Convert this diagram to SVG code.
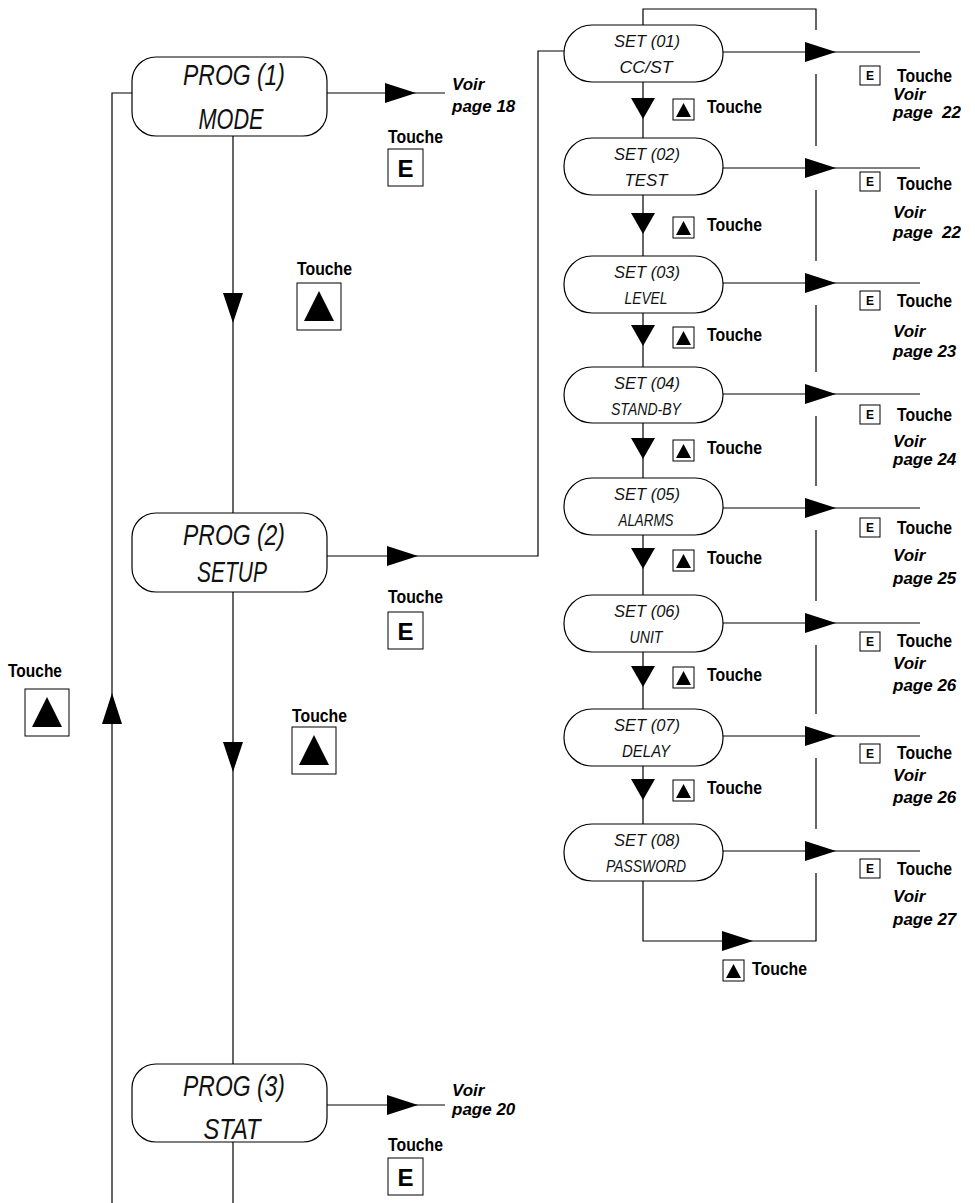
<svg xmlns="http://www.w3.org/2000/svg" xmlns:xlink="http://www.w3.org/1999/xlink" width="975" height="1203" viewBox="0 0 975 1203">
<style>
.ln{stroke:#000;stroke-width:1.2;fill:none}
.nd{fill:#fff;stroke:#000;stroke-width:1.2}
.lcd{font-family:"Liberation Sans",Arial,sans-serif;font-style:italic;fill:#111;text-anchor:middle}
.big{font-size:30px}
.sm{font-size:16px}
.t{font-family:"Liberation Sans",Arial,sans-serif;font-weight:bold;font-size:18px;fill:#000}
.v{font-family:"Liberation Sans",Arial,sans-serif;font-weight:bold;font-style:italic;font-size:17px;fill:#000}
.bx{fill:#fff;stroke:#000;stroke-width:1}
.ek{font-family:"Liberation Sans",Arial,sans-serif;font-weight:bold;fill:#000;text-anchor:middle}
.ah{fill:#000}
</style>
<defs>
<path id="ar" class="ah" d="M0,-10 L31,0 L0,10 Z"/>
<path id="ad" class="ah" d="M-10,0 L10,0 L0,30 Z"/>
<path id="au" class="ah" d="M-10,0 L10,0 L0,-31 Z"/>
<path id="ads" class="ah" d="M-12,0 L12,0 L0,21 Z"/>
<g id="kbig"><rect class="bx" x="0" y="0" width="44" height="47"/><path class="ah" d="M7,38 L37,38 L22,8 Z"/></g>
<g id="ksm"><rect class="bx" x="0" y="0" width="21" height="21"/><path class="ah" d="M3,18 L18,18 L10.5,4 Z"/></g>
<g id="ebig"><rect class="bx" x="0" y="0" width="35" height="37"/><text class="ek" x="17.5" y="28" font-size="24">E</text></g>
<g id="esm"><rect class="bx" x="0" y="0" width="20" height="19"/><text class="ek" x="10" y="14" font-size="12">E</text></g>
</defs>

<g id="connectors">
<!-- left return line -->
<path class="ln" d="M132,93 H112 V1203"/>
<use href="#au" x="112" y="724"/>
<!-- main vertical -->
<path class="ln" d="M233,136 V513 M233,592 V1064 M233,1142 V1203"/>
<use href="#ad" x="233" y="293"/>
<use href="#ad" x="233" y="742"/>
<!-- PROG outputs -->
<path class="ln" d="M327,93 H445"/>
<use href="#ar" x="385" y="93"/>
<path class="ln" d="M327,556 H538 V51 H564"/>
<use href="#ar" x="387" y="556"/>
<path class="ln" d="M327,1105 H445"/>
<use href="#ar" x="387" y="1105"/>
<!-- SET column vertical -->
<path class="ln" d="M643,25 V9 H816 V30 M816,74 V146 M816,190 V261 M816,305 V372 M816,416 V486 M816,530 V601 M816,645 V714 M816,758 V829 M816,873 V941 H643 V881"/>
<path class="ln" d="M643,82 V138 M643,195 V256 M643,313 V367 M643,423 V478 M643,535 V595 M643,652 V709 M643,766 V824"/>
<use href="#ads" x="643" y="98"/>
<use href="#ads" x="643" y="213"/>
<use href="#ads" x="643" y="325"/>
<use href="#ads" x="643" y="438"/>
<use href="#ads" x="643" y="548"/>
<use href="#ads" x="643" y="666"/>
<use href="#ads" x="643" y="779"/>
<use href="#ar" x="722" y="941"/>
<!-- SET outputs -->
<path class="ln" d="M723,52 H920 M723,168 H920 M723,283 H920 M723,394 H920 M723,508 H920 M723,623 H920 M723,736 H920 M723,851 H920"/>
<use href="#ar" x="805" y="52"/>
<use href="#ar" x="805" y="168"/>
<use href="#ar" x="805" y="283"/>
<use href="#ar" x="805" y="394"/>
<use href="#ar" x="805" y="508"/>
<use href="#ar" x="805" y="623"/>
<use href="#ar" x="805" y="736"/>
<use href="#ar" x="805" y="851"/>
</g>

<g id="prog1">
<rect class="nd" x="132" y="57" width="195" height="79" rx="24"/>
<text class="lcd big" x="234" y="85" textLength="102" lengthAdjust="spacingAndGlyphs">PROG (1)</text>
<text class="lcd big" x="231" y="129" textLength="65" lengthAdjust="spacingAndGlyphs">MODE</text>
</g>
<g id="prog2">
<rect class="nd" x="132" y="513" width="195" height="79" rx="24"/>
<text class="lcd big" x="234" y="545" textLength="102" lengthAdjust="spacingAndGlyphs">PROG (2)</text>
<text class="lcd big" x="232" y="582" textLength="70" lengthAdjust="spacingAndGlyphs">SETUP</text>
</g>
<g id="prog3">
<rect class="nd" x="132" y="1064" width="195" height="78" rx="24"/>
<text class="lcd big" x="234" y="1096" textLength="102" lengthAdjust="spacingAndGlyphs">PROG (3)</text>
<text class="lcd big" x="232" y="1139" textLength="57" lengthAdjust="spacingAndGlyphs">STAT</text>
</g>

<g id="prog-labels">
<text class="v" x="452" y="90">Voir</text>
<text class="v" x="452" y="112">page 18</text>
<text class="t" x="388" y="143" textLength="55" lengthAdjust="spacingAndGlyphs">Touche</text>
<use href="#ebig" x="388" y="149"/>
<text class="t" x="388" y="603" textLength="55" lengthAdjust="spacingAndGlyphs">Touche</text>
<use href="#ebig" x="388" y="612"/>
<text class="v" x="452" y="1096">Voir</text>
<text class="v" x="452" y="1115">page 20</text>
<text class="t" x="388" y="1151" textLength="55" lengthAdjust="spacingAndGlyphs">Touche</text>
<use href="#ebig" x="388" y="1158"/>
<text class="t" x="297" y="275" textLength="55" lengthAdjust="spacingAndGlyphs">Touche</text>
<use href="#kbig" x="297" y="283"/>
<text class="t" x="292" y="722" textLength="55" lengthAdjust="spacingAndGlyphs">Touche</text>
<use href="#kbig" x="292" y="727"/>
<text class="t" x="8" y="677" textLength="54" lengthAdjust="spacingAndGlyphs">Touche</text>
<use href="#kbig" x="25" y="689"/>
</g>

<g id="set01"><rect class="nd" x="564" y="25" width="159" height="57" rx="28"/>
<text class="lcd sm" x="647" y="47" textLength="66" lengthAdjust="spacingAndGlyphs">SET (01)</text>
<text class="lcd sm" x="646" y="73" textLength="53" lengthAdjust="spacingAndGlyphs">CC/ST</text></g>
<g id="set02"><rect class="nd" x="564" y="138" width="159" height="57" rx="28"/>
<text class="lcd sm" x="647" y="160" textLength="66" lengthAdjust="spacingAndGlyphs">SET (02)</text>
<text class="lcd sm" x="646" y="186" textLength="43" lengthAdjust="spacingAndGlyphs">TEST</text></g>
<g id="set03"><rect class="nd" x="564" y="256" width="159" height="57" rx="28"/>
<text class="lcd sm" x="647" y="278" textLength="66" lengthAdjust="spacingAndGlyphs">SET (03)</text>
<text class="lcd sm" x="646" y="304" textLength="43" lengthAdjust="spacingAndGlyphs">LEVEL</text></g>
<g id="set04"><rect class="nd" x="564" y="367" width="159" height="56" rx="28"/>
<text class="lcd sm" x="647" y="389" textLength="66" lengthAdjust="spacingAndGlyphs">SET (04)</text>
<text class="lcd sm" x="646" y="415" textLength="70" lengthAdjust="spacingAndGlyphs">STAND-BY</text></g>
<g id="set05"><rect class="nd" x="564" y="478" width="159" height="57" rx="28"/>
<text class="lcd sm" x="647" y="500" textLength="66" lengthAdjust="spacingAndGlyphs">SET (05)</text>
<text class="lcd sm" x="646" y="526" textLength="55" lengthAdjust="spacingAndGlyphs">ALARMS</text></g>
<g id="set06"><rect class="nd" x="564" y="595" width="159" height="57" rx="28"/>
<text class="lcd sm" x="647" y="617" textLength="66" lengthAdjust="spacingAndGlyphs">SET (06)</text>
<text class="lcd sm" x="646" y="643" textLength="33" lengthAdjust="spacingAndGlyphs">UNIT</text></g>
<g id="set07"><rect class="nd" x="564" y="709" width="159" height="57" rx="28"/>
<text class="lcd sm" x="647" y="731" textLength="66" lengthAdjust="spacingAndGlyphs">SET (07)</text>
<text class="lcd sm" x="646" y="757" textLength="48" lengthAdjust="spacingAndGlyphs">DELAY</text></g>
<g id="set08"><rect class="nd" x="564" y="824" width="159" height="57" rx="28"/>
<text class="lcd sm" x="647" y="846" textLength="66" lengthAdjust="spacingAndGlyphs">SET (08)</text>
<text class="lcd sm" x="646" y="872" textLength="80" lengthAdjust="spacingAndGlyphs">PASSWORD</text></g>

<g id="set-keys">
<use href="#ksm" x="673" y="99"/><text class="t" x="707" y="113" textLength="55" lengthAdjust="spacingAndGlyphs">Touche</text>
<use href="#ksm" x="673" y="217"/><text class="t" x="707" y="231" textLength="55" lengthAdjust="spacingAndGlyphs">Touche</text>
<use href="#ksm" x="673" y="327"/><text class="t" x="707" y="341" textLength="55" lengthAdjust="spacingAndGlyphs">Touche</text>
<use href="#ksm" x="673" y="440"/><text class="t" x="707" y="454" textLength="55" lengthAdjust="spacingAndGlyphs">Touche</text>
<use href="#ksm" x="673" y="550"/><text class="t" x="707" y="564" textLength="55" lengthAdjust="spacingAndGlyphs">Touche</text>
<use href="#ksm" x="673" y="667"/><text class="t" x="707" y="681" textLength="55" lengthAdjust="spacingAndGlyphs">Touche</text>
<use href="#ksm" x="673" y="780"/><text class="t" x="707" y="794" textLength="55" lengthAdjust="spacingAndGlyphs">Touche</text>
<use href="#ksm" x="723" y="960"/><text class="t" x="752" y="975" textLength="55" lengthAdjust="spacingAndGlyphs">Touche</text>
</g>

<g id="set-outputs">
<use href="#esm" x="860" y="66"/><text class="t" x="897" y="82" textLength="55" lengthAdjust="spacingAndGlyphs">Touche</text>
<text class="v" x="893" y="100">Voir</text><text class="v" x="893" y="118" xml:space="preserve">page  22</text>
<use href="#esm" x="860" y="172"/><text class="t" x="897" y="190" textLength="55" lengthAdjust="spacingAndGlyphs">Touche</text>
<text class="v" x="893" y="218">Voir</text><text class="v" x="893" y="238" xml:space="preserve">page  22</text>
<use href="#esm" x="860" y="291"/><text class="t" x="897" y="307" textLength="55" lengthAdjust="spacingAndGlyphs">Touche</text>
<text class="v" x="893" y="337">Voir</text><text class="v" x="893" y="357">page 23</text>
<use href="#esm" x="860" y="405"/><text class="t" x="897" y="421" textLength="55" lengthAdjust="spacingAndGlyphs">Touche</text>
<text class="v" x="893" y="447">Voir</text><text class="v" x="893" y="465">page 24</text>
<use href="#esm" x="860" y="518"/><text class="t" x="897" y="534" textLength="55" lengthAdjust="spacingAndGlyphs">Touche</text>
<text class="v" x="893" y="561">Voir</text><text class="v" x="893" y="584">page 25</text>
<use href="#esm" x="860" y="632"/><text class="t" x="897" y="647" textLength="55" lengthAdjust="spacingAndGlyphs">Touche</text>
<text class="v" x="893" y="669">Voir</text><text class="v" x="893" y="691">page 26</text>
<use href="#esm" x="860" y="744"/><text class="t" x="897" y="759" textLength="55" lengthAdjust="spacingAndGlyphs">Touche</text>
<text class="v" x="893" y="781">Voir</text><text class="v" x="893" y="803">page 26</text>
<use href="#esm" x="860" y="859"/><text class="t" x="897" y="875" textLength="55" lengthAdjust="spacingAndGlyphs">Touche</text>
<text class="v" x="893" y="902">Voir</text><text class="v" x="893" y="925">page 27</text>
</g>
</svg>
